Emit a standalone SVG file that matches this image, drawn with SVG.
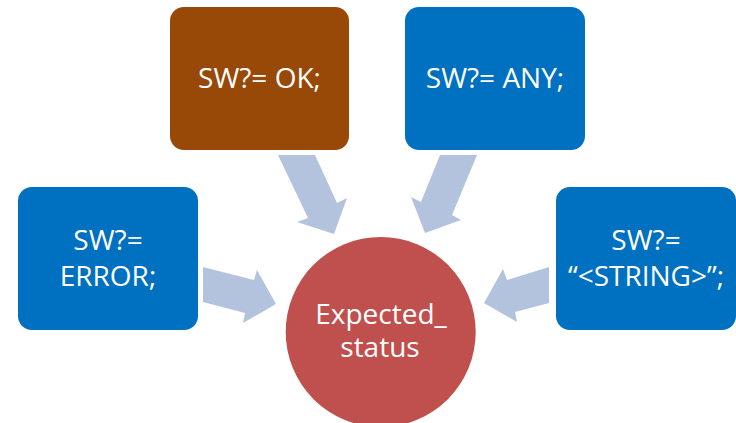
<svg xmlns="http://www.w3.org/2000/svg" width="736" height="423" viewBox="0 0 736 423">
<style>
.blue{fill:#0070C0}
.brown{fill:#984807}
.circ{fill:#C0504D}
.arrow{fill:#B3C3DE}
.t{font-family:"Open Sans","Liberation Sans",sans-serif;font-size:28px;fill:#FFFFFF;text-anchor:middle}
</style>
<rect width="736" height="423" fill="#FFFFFF"/>
<g id="connectors">
<polygon class="arrow" points="278,155 315,155 337,203 347,198 334,234 297,222 308,218"/>
<polygon class="arrow" points="440,155 477,155 452,215 461,220 425,233 411,197 421,202"/>
<polygon class="arrow" points="203,267 203,302 245,313 243,323 276,304 257,270 254,280"/>
<polygon class="arrow" points="549,267 549,303 515,312 517,322 484,303 503,269 507,280"/>
</g>
<g id="node-ok">
<rect class="brown" x="170" y="7" width="179" height="143" rx="14"/>
<text class="t" x="259.5" y="88">SW?= OK;</text>
</g>
<g id="node-any">
<rect class="blue" x="405" y="7" width="180" height="143" rx="14"/>
<text class="t" x="495" y="88">SW?= ANY;</text>
</g>
<g id="node-error">
<rect class="blue" x="18" y="187" width="180" height="143" rx="14"/>
<text class="t" x="108" y="250">SW?=</text>
<text class="t" x="108" y="286">ERROR;</text>
</g>
<g id="node-string">
<rect class="blue" x="556" y="187" width="180" height="143" rx="14"/>
<text class="t" x="646" y="250">SW?=</text>
<text class="t" x="646" y="286">“&lt;STRING&gt;”;</text>
</g>
<g id="node-expected">
<circle class="circ" cx="380.7" cy="332" r="95"/>
<text class="t" x="381" y="324">Expected_</text>
<text class="t" x="380" y="357">status</text>
</g>
</svg>
